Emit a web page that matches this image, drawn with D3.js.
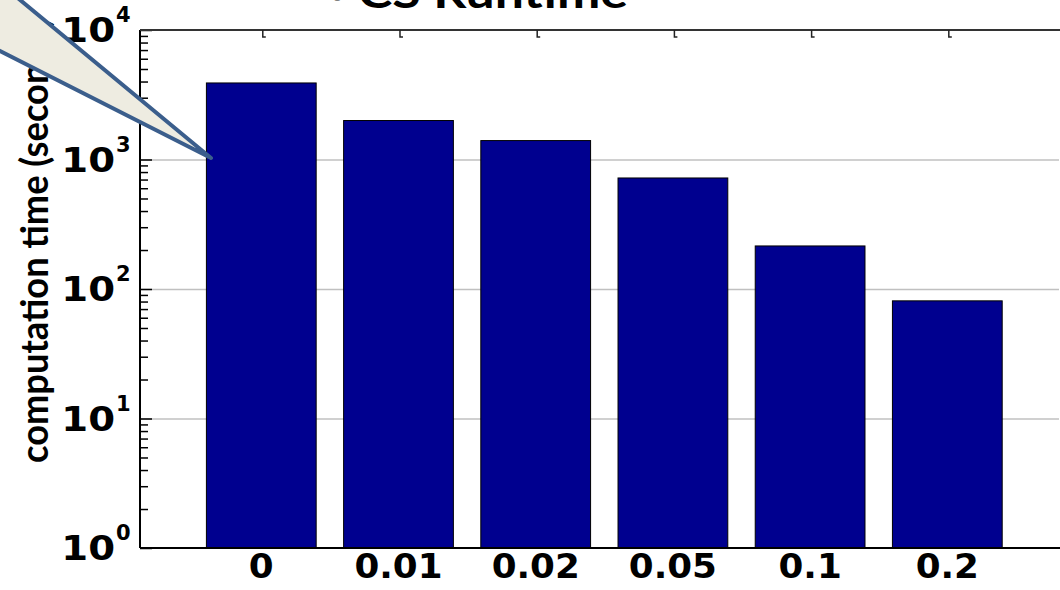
<!DOCTYPE html>
<html><head><meta charset="utf-8">
<script src="https://cdn.jsdelivr.net/npm/d3@7"></script>
<style>html,body{margin:0;padding:0;background:#fff;overflow:hidden}</style>
</head><body>
<svg id="c" width="1060" height="590"></svg>
<script>
const categories = ["0", "0.01", "0.02", "0.05", "0.1", "0.2"];
const runtimes = [3900, 2000, 1400, 720, 215, 81];
const yTickExponents = [0, 1, 2, 3, 4];
const titleText = "CS Runtime";
const yLabel = "computation time (seconds)";

const svg = d3.select("#c");
const L = 140, R = 1059, T = 30, B = 548;
const x = d3.scaleLinear().domain([-0.884, 5.814]).range([L, R]);
const y = d3.scaleLog().domain([1, 1e4]).range([B, T]);
const step = x(1) - x(0);
const bw = step * 0.8;

// grid
const majors = yTickExponents.map(e => Math.pow(10, e));
svg.append("g").attr("transform", `translate(${L},0)`)
  .call(d3.axisLeft(y).tickValues(majors.slice(1, -1)).tickSize(-(R - L)).tickFormat(""))
  .call(g => g.select(".domain").remove())
  .selectAll("line").attr("stroke", "#c0c0c0").attr("stroke-width", 1.5);

// bars
svg.append("g").selectAll("rect").data(runtimes).join("rect")
  .attr("x", (d, i) => x(i) - bw / 2)
  .attr("width", bw)
  .attr("y", d => y(d))
  .attr("height", d => B - y(d))
  .attr("fill", "#00008f")
  .attr("stroke", "#000").attr("stroke-width", 1);

// minor ticks
const minors = [];
for (let e = 0; e < 4; e++) for (let k = 2; k <= 9; k++) minors.push(k * Math.pow(10, e));
svg.append("g").attr("transform", `translate(${L},0)`)
  .call(d3.axisLeft(y).tickValues(minors).tickSize(-8).tickFormat(""))
  .call(g => g.select(".domain").remove())
  .selectAll("line").attr("stroke", "#000").attr("stroke-width", 1.5);
svg.append("g").attr("transform", `translate(${L},0)`)
  .call(d3.axisLeft(y).tickValues(majors).tickSize(-12).tickFormat(""))
  .call(g => g.select(".domain").remove())
  .selectAll("line").attr("stroke", "#000").attr("stroke-width", 1.5);

// frame
svg.append("line").attr("x1", L).attr("x2", L).attr("y1", T).attr("y2", B).attr("stroke", "#000").attr("stroke-width", 2);
svg.append("line").attr("x1", L).attr("x2", 1060).attr("y1", T).attr("y2", T).attr("stroke", "#333").attr("stroke-width", 2);
svg.append("line").attr("x1", L).attr("x2", 1060).attr("y1", B).attr("y2", B).attr("stroke", "#000").attr("stroke-width", 2);

// top ticks (L shaped)
svg.append("g").selectAll("path").data(categories).join("path")
  .attr("d", (d, i) => `M${x(i) + 1.5},${T} V${T + 7} h3`)
  .attr("fill", "none").attr("stroke", "#222").attr("stroke-width", 1.5);

// y tick labels
const yl = svg.append("g").attr("font-family", "DejaVu Sans, sans-serif").attr("font-weight", "bold").attr("fill", "#000");
yTickExponents.forEach(e => {
  const ty = y(Math.pow(10, e));
  yl.append("text").attr("x", 0).attr("y", 0).attr("text-anchor", "end")
    .attr("font-size", 33).attr("transform", `translate(115,${ty + 12}) scale(1.17,1)`).text("10");
  yl.append("text").attr("x", 116).attr("y", ty - 8)
    .attr("font-size", 21).text(String(e));
});

// x labels
svg.append("g").selectAll("text").data(categories).join("text")
  .attr("transform", (d, i) => `translate(${x(i)},578) scale(1.05,1)`)
  .attr("text-anchor", "middle")
  .attr("font-family", "DejaVu Sans, sans-serif").attr("font-weight", "bold")
  .attr("font-size", 34).attr("fill", "#000").text(d => d);

// y label
svg.append("text").attr("transform", `translate(48,463) rotate(-90)`)
  .attr("font-family", "Lato, sans-serif").attr("font-weight", "bold").attr("font-size", 38)
  .attr("textLength", 445).attr("lengthAdjust", "spacingAndGlyphs")
  .attr("fill", "#000").text(yLabel);

// title (cut off at top)
svg.append("text").attr("x", 331).attr("y", 8).attr("font-family", "Liberation Sans, Arial, sans-serif")
  .attr("font-size", 36).attr("fill", "#7f7f7f").text("\u2022");
svg.append("text").attr("x", 358).attr("y", 8).attr("font-family", "Lato, sans-serif").attr("font-weight", "bold")
  .attr("font-size", 42).attr("textLength", 270).attr("lengthAdjust", "spacingAndGlyphs")
  .attr("fill", "#000").text(titleText);

// callout pointer
svg.append("path").attr("d", "M-4,-20 L211,158 L-12,45 Z")
  .attr("fill", "#eeece1").attr("stroke", "#3b5e8c").attr("stroke-width", 4).attr("stroke-linejoin", "round");
</script>
</body></html>
